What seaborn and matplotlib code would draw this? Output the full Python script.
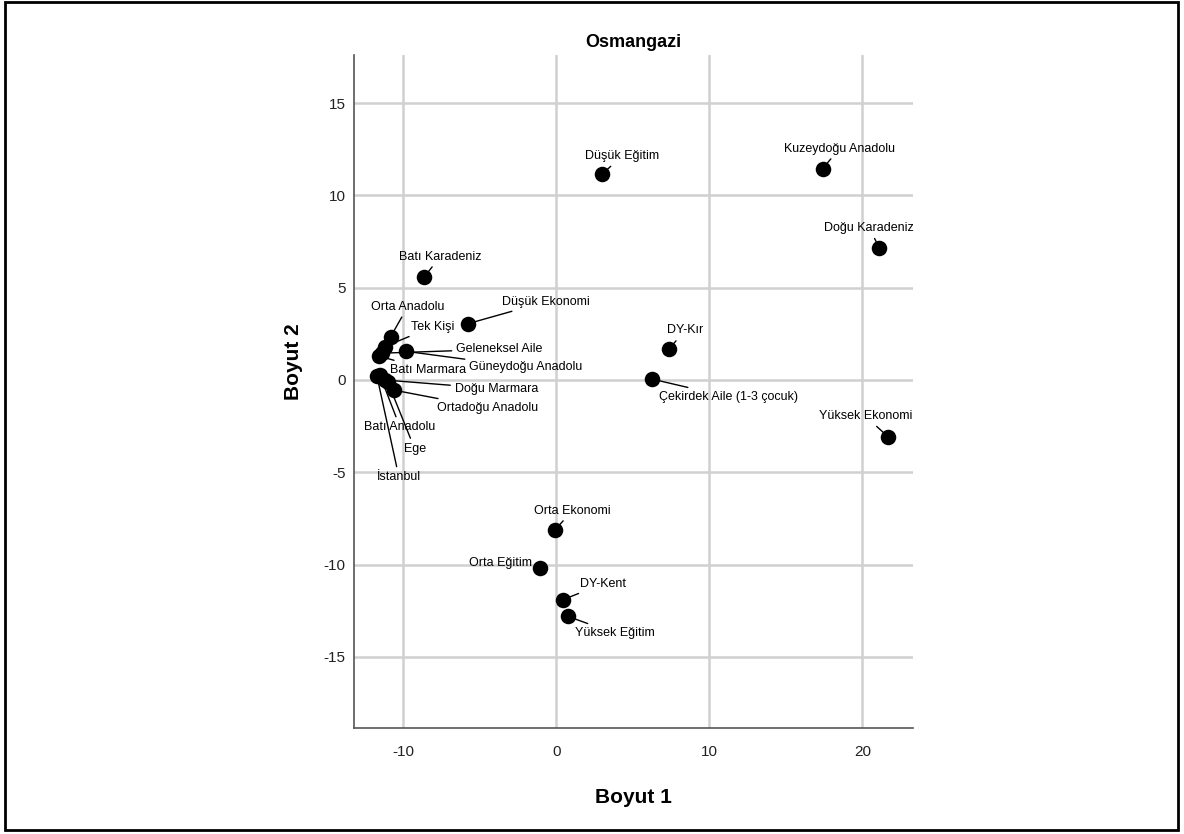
import matplotlib
matplotlib.use("Agg")
import matplotlib.pyplot as plt
from matplotlib.patches import Rectangle
import seaborn as sns
import pandas as pd

# Category names and their coordinates on the two dimensions
names = [
    "Düşük Eğitim", "Kuzeydoğu Anadolu", "Doğu Karadeniz", "Batı Karadeniz",
    "Düşük Ekonomi", "Orta Anadolu", "Tek Kişi", "Geleneksel Aile",
    "Güneydoğu Anadolu", "Batı Marmara", "Doğu Marmara", "Ortadoğu Anadolu",
    "Batı Anadolu", "Ege", "İstanbul", "DY-Kır", "Çekirdek Aile (1-3 çocuk)",
    "Yüksek Ekonomi", "Orta Ekonomi", "Orta Eğitim", "DY-Kent", "Yüksek Eğitim",
]
boyut1 = [3.0, 17.4, 21.1, -8.6, -5.75, -10.8, -11.2, -11.4, -9.8, -11.6, -11.2,
          -10.6, -11.5, -11.0, -11.7, 7.35, 6.25, 21.7, -0.05, -1.05, 0.45, 0.75]
boyut2 = [11.15, 11.45, 7.15, 5.6, 3.05, 2.35, 1.8, 1.45, 1.55, 1.3, 0.0,
          -0.55, 0.25, -0.1, 0.2, 1.65, 0.05, -3.1, -8.1, -10.2, -11.9, -12.8]

# Label placement (offset from each point, in pixels)
label_offsets = {
    "Düşük Eğitim": (20, 18), "Kuzeydoğu Anadolu": (17, 20),
    "Doğu Karadeniz": (-10, 20), "Batı Karadeniz": (16, 20),
    "Düşük Ekonomi": (78, 22), "Orta Anadolu": (17, 30),
    "Tek Kişi": (48, 20), "Geleneksel Aile": (118, 4),
    "Güneydoğu Anadolu": (120, -16), "Batı Marmara": (50, -14),
    "Doğu Marmara": (112, -9), "Ortadoğu Anadolu": (94, -18),
    "Batı Anadolu": (20, -52), "Ege": (27, -67), "İstanbul": (22, -101),
    "DY-Kır": (16, 19), "Çekirdek Aile (1-3 çocuk)": (77, -18),
    "Yüksek Ekonomi": (-23, 21), "Orta Ekonomi": (17, 19),
    "Orta Eğitim": (-40, 5), "DY-Kent": (40, 16), "Yüksek Eğitim": (47, -17),
}

df = pd.DataFrame({"name": names, "Boyut 1": boyut1, "Boyut 2": boyut2})

sns.set_theme(style="white")
plt.rcParams["font.family"] = ["Liberation Sans", "DejaVu Sans"]
plt.rcParams["axes.unicode_minus"] = False

fig = plt.figure(figsize=(11.84, 8.34), dpi=100)
ax = fig.add_axes([354 / 1184, 106 / 834, 559 / 1184, 673 / 834])

sns.scatterplot(data=df, x="Boyut 1", y="Boyut 2", ax=ax, s=125,
                color="black", edgecolor="black", linewidth=0, zorder=3)

ax.set_xlim(-13.2, 23.3)
ax.set_ylim(-18.85, 17.6)
ax.set_xticks([-10, 0, 10, 20])
ax.set_yticks([-15, -10, -5, 0, 5, 10, 15])
ax.grid(True, color="#d0d0d0", linewidth=1.8, zorder=0)
ax.set_axisbelow(True)
for side in ("top", "right"):
    ax.spines[side].set_visible(False)
for side in ("left", "bottom"):
    ax.spines[side].set_color("#555555")
    ax.spines[side].set_linewidth(1.2)
ax.tick_params(axis="both", length=0, labelsize=11, colors="#222222")
ax.tick_params(axis="x", pad=12)
ax.tick_params(axis="y", pad=6)

ax.set_title("Osmangazi", fontsize=13, fontweight="bold", color="black", pad=6)
ax.set_xlabel("Boyut 1", fontsize=15, fontweight="bold", color="black")
ax.set_ylabel("Boyut 2", fontsize=15, fontweight="bold", color="black")
ax.xaxis.set_label_coords(0.5, -0.104)
ax.xaxis.label.set_va("center")
ax.yaxis.set_label_coords(-0.108, 0.545)
ax.yaxis.label.set_va("center")

for n, x, y in zip(names, boyut1, boyut2):
    dx, dy = label_offsets[n]
    ax.annotate(n, xy=(x, y), xytext=(dx, dy), textcoords="offset pixels",
                ha="center", va="center", fontsize=9,
                family=["Liberation Sans", "DejaVu Sans"],
                color="black",
                arrowprops=dict(arrowstyle="-", color="black", lw=1,
                                shrinkA=1, shrinkB=0),
                zorder=4)

# Frame round the whole figure
fig.patches.append(Rectangle((5 / 1184, 4 / 834), 1173 / 1184, 828 / 834,
                             transform=fig.transFigure, fill=False,
                             edgecolor="black", linewidth=2))

fig.savefig("out.png", dpi=100, facecolor="white")
